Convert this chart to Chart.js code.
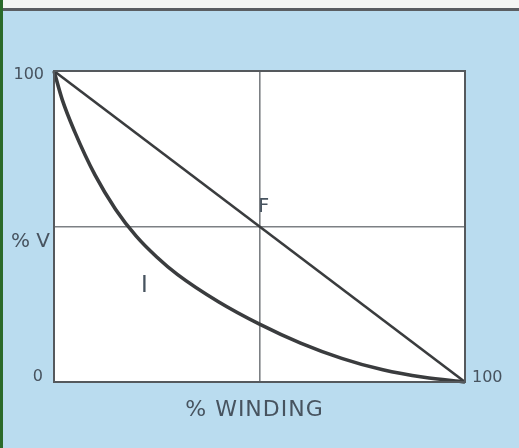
<!DOCTYPE html>
<html>
<head>
<meta charset="utf-8">
<style>
  html, body { margin: 0; padding: 0; background: #badcef; }
  #wrap { width: 519px; height: 448px; position: relative; }
</style>
<script src="https://cdn.jsdelivr.net/npm/chart.js@4.4.1/dist/chart.umd.min.js"></script>
</head>
<body>
<div id="wrap"><canvas id="c" width="519" height="448"></canvas></div>
<script>
// Curve I: voltage across the winding, percent
const curveWinding = [0, 2, 5, 10, 15, 20, 25, 30, 40, 50, 60, 70, 80, 90, 100];
const curveV       = [100, 90.8, 80.6, 66.5, 55.5, 46.9, 40.2, 34.6, 25.8, 18.6, 12.5, 7.6, 3.9, 1.5, 0];

// Line F: linear distribution
const lineWinding = [0, 100];
const lineV       = [100, 0];

// Axis end labels
const xTickLabels = ['100'];
const yTickLabels = ['0', '100'];

const INK = '#47535f';
const FONT = '"DejaVu Sans", "Liberation Sans", sans-serif';

const frame = {
  id: 'frame',
  beforeDraw(chart) {
    const { ctx, chartArea: a, width, height } = chart;
    ctx.save();
    ctx.fillStyle = '#badcef';
    ctx.fillRect(0, 0, width, height);
    ctx.fillStyle = '#f4f6f4';
    ctx.fillRect(0, 0, width, 8);
    ctx.fillStyle = '#5a5e62';
    ctx.fillRect(0, 8, width, 3);
    ctx.fillStyle = '#2a6a2a';
    ctx.fillRect(0, 0, 3, height);
    ctx.fillStyle = '#ffffff';
    ctx.fillRect(a.left, a.top, a.right - a.left, a.bottom - a.top);
    ctx.restore();
  },
  afterDatasetsDraw(chart) {
    const { ctx, chartArea: a } = chart;
    const xs = chart.scales.x, ys = chart.scales.y;
    ctx.save();
    ctx.strokeStyle = '#55595d';
    ctx.lineWidth = 2;
    ctx.strokeRect(a.left, a.top, a.right - a.left, a.bottom - a.top);
    ctx.fillStyle = INK;
    ctx.textBaseline = 'middle';
    ctx.font = '16px ' + FONT;
    ctx.textAlign = 'right';
    ctx.fillText(yTickLabels[1], a.left - 10, ys.getPixelForValue(100) + 4);
    ctx.fillText(yTickLabels[0], a.left - 11, ys.getPixelForValue(0) - 5);
    ctx.textAlign = 'left';
    ctx.fillText(xTickLabels[0], a.right + 7, ys.getPixelForValue(0) - 4);
    ctx.font = '20px ' + FONT;
    ctx.textAlign = 'right';
    ctx.fillText('% V', a.left - 4, ys.getPixelForValue(50) + 15);
    ctx.textAlign = 'center';
    ctx.font = '19px ' + FONT;
    ctx.fillText('F', xs.getPixelForValue(51), ys.getPixelForValue(50) - 19);
    ctx.font = '23px ' + FONT;
    ctx.fillText('I', xs.getPixelForValue(22), ys.getPixelForValue(31));
    ctx.font = '22px ' + FONT;
    ctx.letterSpacing = '1px';
    ctx.fillText('% WINDING', (a.left + a.right) / 2 - 5, 410);
    ctx.restore();
  }
};

const pts = (xs, ys) => xs.map((x, i) => ({ x, y: ys[i] }));

new Chart(document.getElementById('c'), {
  type: 'line',
  data: {
    datasets: [
      {
        label: 'I',
        data: pts(curveWinding, curveV),
        borderColor: '#3a3c3e',
        borderWidth: 3.6,
        pointRadius: 0,
        cubicInterpolationMode: 'monotone',
        fill: false,
        clip: 6
      },
      {
        label: 'F',
        data: pts(lineWinding, lineV),
        borderColor: '#3a3c3e',
        borderWidth: 2.6,
        pointRadius: 0,
        fill: false,
        clip: 6
      }
    ]
  },
  options: {
    responsive: false,
    animation: false,
    layout: { padding: { left: 54, top: 71, right: 54, bottom: 66 } },
    plugins: { legend: { display: false }, tooltip: { enabled: false } },
    scales: {
      x: {
        type: 'linear', min: 0, max: 100,
        ticks: { display: false, stepSize: 50 },
        border: { display: false },
        grid: {
          drawTicks: false,
          lineWidth: 1.6,
          color: c => (c.tick && c.tick.value === 50 ? '#7c8084' : 'rgba(0,0,0,0)')
        }
      },
      y: {
        type: 'linear', min: 0, max: 100,
        ticks: { display: false, stepSize: 50 },
        border: { display: false },
        grid: {
          drawTicks: false,
          lineWidth: 1.6,
          color: c => (c.tick && c.tick.value === 50 ? '#7c8084' : 'rgba(0,0,0,0)')
        }
      }
    }
  },
  plugins: [frame]
});
</script>
</body>
</html>
